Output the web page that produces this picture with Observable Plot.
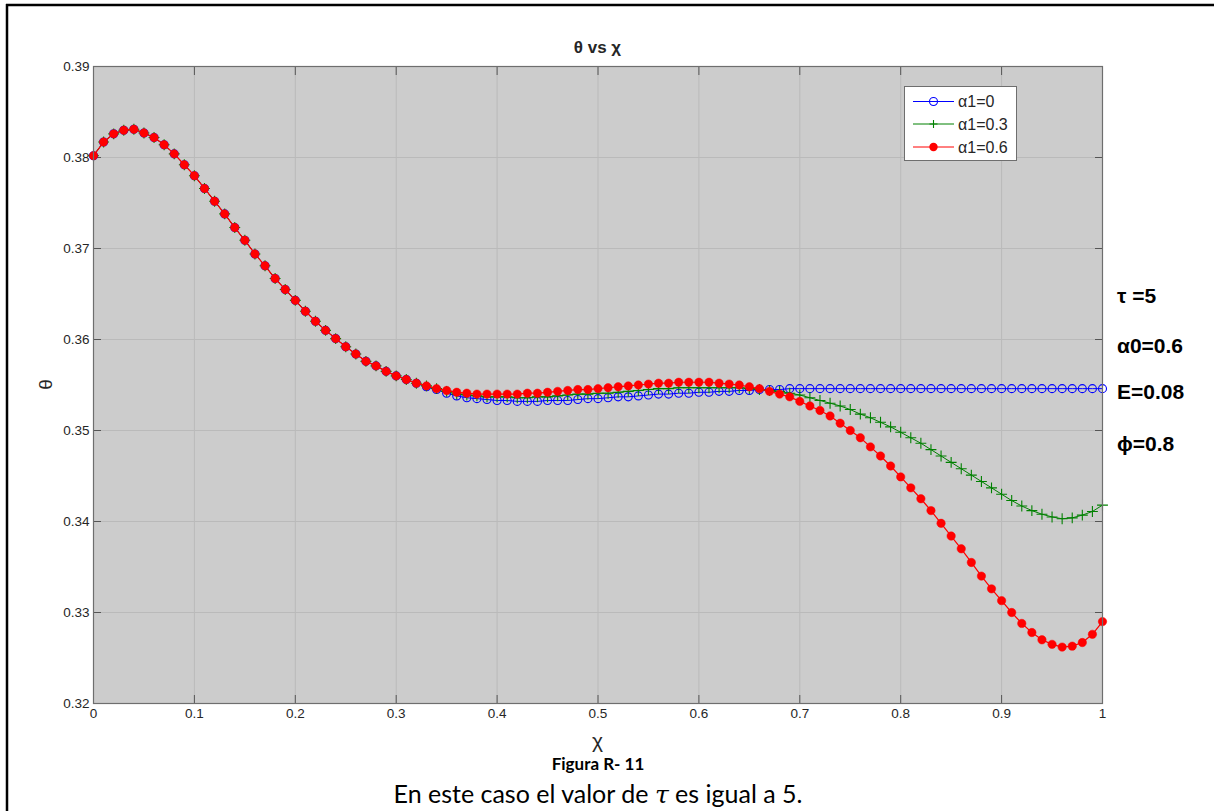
<!DOCTYPE html>
<html>
<head>
<meta charset="utf-8">
<script src="https://cdn.jsdelivr.net/npm/d3@7"></script>
<script src="https://cdn.jsdelivr.net/npm/@observablehq/plot@0.6"></script>
<style>
  html, body { margin: 0; padding: 0; background: #fff; overflow: hidden; }
  #chart { width: 1214px; height: 811px; overflow: hidden; }
</style>
</head>
<body>
<div id="chart"></div>
<script>
// ---- Data ----
const chi = d3.range(101).map(i => i / 100);

const seriesNames = ["α1=0", "α1=0.3", "α1=0.6"];
const seriesColors = ["#0000ff", "#008000", "#ff0000"];

const theta_a0 = [
  0.3802, 0.3817, 0.3826, 0.3830, 0.3831, 0.3827, 0.3822, 0.3814, 0.3804, 0.3792,
  0.3780, 0.3766, 0.3752, 0.3738, 0.3723, 0.3709, 0.3694, 0.3681, 0.3667, 0.3655,
  0.3643, 0.3631, 0.3620, 0.3610, 0.3601, 0.3592, 0.3584, 0.3576, 0.3571, 0.3565,
  0.3560, 0.3556, 0.3552, 0.3548, 0.3545, 0.3541, 0.3538, 0.3536, 0.3535, 0.3534,
  0.3533, 0.3533, 0.3532, 0.3532, 0.3532, 0.3533, 0.3533, 0.3533, 0.3534, 0.3535,
  0.3535, 0.3536, 0.3537, 0.3537, 0.3538, 0.3539, 0.3540, 0.3540, 0.3541, 0.3541,
  0.3542, 0.3542, 0.3543, 0.3543, 0.3544, 0.3544, 0.3545, 0.3545, 0.3545, 0.3546,
  0.3546, 0.3546, 0.3546, 0.3546, 0.3546, 0.3546, 0.3546, 0.3546, 0.3546, 0.3546,
  0.3546, 0.3546, 0.3546, 0.3546, 0.3546, 0.3546, 0.3546, 0.3546, 0.3546, 0.3546,
  0.3546, 0.3546, 0.3546, 0.3546, 0.3546, 0.3546, 0.3546, 0.3546, 0.3546, 0.3546,
  0.3546
];

const theta_a03 = [
  0.3802, 0.3817, 0.3826, 0.3830, 0.3831, 0.3827, 0.3822, 0.3814, 0.3804, 0.3792,
  0.3780, 0.3766, 0.3752, 0.3738, 0.3723, 0.3709, 0.3694, 0.3681, 0.3667, 0.3655,
  0.3643, 0.3631, 0.3620, 0.3610, 0.3601, 0.3592, 0.3584, 0.3576, 0.3571, 0.3565,
  0.3560, 0.3556, 0.3552, 0.3549, 0.3546, 0.3543, 0.3540, 0.3539, 0.3538, 0.3537,
  0.3537, 0.3537, 0.3536, 0.3536, 0.3537, 0.3537, 0.3538, 0.3539, 0.3540, 0.3540,
  0.3541, 0.3541, 0.3542, 0.3543, 0.3544, 0.3545, 0.3546, 0.3546, 0.3547, 0.3547,
  0.3547, 0.3547, 0.3547, 0.3547, 0.3547, 0.3546, 0.3545, 0.3544, 0.3543, 0.3541,
  0.3539, 0.3536, 0.3533, 0.3530, 0.3527, 0.3523, 0.3518, 0.3514, 0.3509, 0.3504,
  0.3498, 0.3492, 0.3486, 0.3479, 0.3472, 0.3465, 0.3458, 0.3451, 0.3444, 0.3437,
  0.3430, 0.3423, 0.3417, 0.3412, 0.3408, 0.3405, 0.3403, 0.3404, 0.3407, 0.3411,
  0.3418
];

const theta_a06 = [
  0.3802, 0.3817, 0.3826, 0.3830, 0.3831, 0.3827, 0.3822, 0.3814, 0.3804, 0.3792,
  0.3780, 0.3766, 0.3752, 0.3738, 0.3723, 0.3709, 0.3694, 0.3681, 0.3667, 0.3655,
  0.3643, 0.3631, 0.3620, 0.3610, 0.3601, 0.3592, 0.3584, 0.3576, 0.3571, 0.3565,
  0.3560, 0.3556, 0.3552, 0.3549, 0.3546, 0.3544, 0.3542, 0.3541, 0.3540, 0.3540,
  0.3540, 0.3540, 0.3540, 0.3541, 0.3541, 0.3542, 0.3543, 0.3544, 0.3545, 0.3545,
  0.3546, 0.3547, 0.3548, 0.3549, 0.3550, 0.3551, 0.3552, 0.3552, 0.3553, 0.3553,
  0.3553, 0.3553, 0.3552, 0.3551, 0.3550, 0.3548, 0.3546, 0.3543, 0.3540, 0.3537,
  0.3532, 0.3527, 0.3522, 0.3516, 0.3508, 0.3500, 0.3492, 0.3482, 0.3472, 0.3461,
  0.3449, 0.3437, 0.3425, 0.3412, 0.3398, 0.3384, 0.3370, 0.3355, 0.3340, 0.3326,
  0.3313, 0.3300, 0.3288, 0.3278, 0.3270, 0.3265, 0.3262, 0.3263, 0.3267, 0.3276,
  0.3290
];

const xTicks = [0, 0.1, 0.2, 0.3, 0.4, 0.5, 0.6, 0.7, 0.8, 0.9, 1];
const yTicks = [0.32, 0.33, 0.34, 0.35, 0.36, 0.37, 0.38, 0.39];
const yTickLabels = ["0.32", "0.33", "0.34", "0.35", "0.36", "0.37", "0.38", "0.39"];

const titleText = "θ vs χ";
const xLabel = "χ";
const yLabel = "θ";
const paramLabels = ["τ =5", "α0=0.6", "E=0.08", "ϕ=0.8"];
const figureLabel = "Figura R- 11";

// ---- Build tidy table ----
const allSeries = [theta_a0, theta_a03, theta_a06];
const rows = allSeries.map((vals, s) => vals.map((v, i) => ({x: chi[i], y: v, s: seriesNames[s]})));

const W = 1214, H = 811;
const mL = 93, mR = 112, mT = 66, mB = 108;
const axisFont = "'Liberation Sans', Arial, sans-serif";

const svg = Plot.plot({
  width: W,
  height: H,
  marginLeft: mL,
  marginRight: mR,
  marginTop: mT,
  marginBottom: mB,
  style: {background: "transparent", fontFamily: axisFont, fontSize: "13.5px", color: "#262626"},
  x: {domain: [0, 1], label: null},
  y: {domain: [0.32, 0.39], label: null},
  marks: [
    Plot.frame({fill: "#cccccc", stroke: null}),
    Plot.gridX({ticks: xTicks, stroke: "#bababa", strokeOpacity: 1, strokeWidth: 1}),
    Plot.gridY({ticks: yTicks, stroke: "#bababa", strokeOpacity: 1, strokeWidth: 1}),
    // inward tick marks (box style)
    Plot.axisX({anchor: "bottom", ticks: xTicks, tickSize: -8, tickFormat: () => "", stroke: "#555", label: null}),
    Plot.axisX({anchor: "top", ticks: xTicks, tickSize: -8, tickFormat: () => "", stroke: "#555", label: null}),
    Plot.axisY({anchor: "left", ticks: yTicks, tickSize: -8, tickFormat: () => "", stroke: "#555", label: null}),
    Plot.axisY({anchor: "right", ticks: yTicks, tickSize: -8, tickFormat: () => "", stroke: "#555", label: null}),
    // tick labels
    Plot.axisX({anchor: "bottom", ticks: xTicks, tickSize: 0, tickPadding: 5, tickFormat: d => String(d), label: null, fill: "#262626"}),
    Plot.axisY({anchor: "left", ticks: yTicks, tickSize: 0, tickPadding: 4, tickFormat: (d, i) => yTickLabels[i], label: null, fill: "#262626"}),
    // series
    Plot.line(rows[0], {x: "x", y: "y", stroke: seriesColors[0], strokeWidth: 1}),
    Plot.dot(rows[0], {x: "x", y: "y", stroke: seriesColors[0], fill: "none", r: 4, strokeWidth: 1.1}),
    Plot.line(rows[1], {x: "x", y: "y", stroke: seriesColors[1], strokeWidth: 1}),
    Plot.dot(rows[1], {x: "x", y: "y", stroke: seriesColors[1], symbol: "plus", r: 3.6, strokeWidth: 1.1}),
    Plot.line(rows[2], {x: "x", y: "y", stroke: seriesColors[2], strokeWidth: 1.2}),
    Plot.dot(rows[2], {x: "x", y: "y", fill: seriesColors[2], stroke: seriesColors[2], r: 4.2, strokeWidth: 0.5}),
    Plot.frame({stroke: "#6e6e6e", strokeWidth: 1.2})
  ]
});

document.getElementById("chart").appendChild(svg);

// ---- Extra text, legend and page frame ----
const s = d3.select(svg);
const x0 = mL, x1 = W - mR, y0 = mT, y1 = H - mB;
const cx = (x0 + x1) / 2;

function txt(parent, x, y, str, opts) {
  const t = parent.append("text").attr("x", x).attr("y", y).text(str)
    .style("text-anchor", opts.anchor || "start")
    .style("font-family", opts.family || axisFont)
    .style("font-size", opts.size + "px")
    .style("font-weight", opts.weight || "normal")
    .style("fill", opts.fill || "#262626");
  return t;
}

// outer document frame (left and top edges only)
s.append("line").attr("x1", 7).attr("x2", 7).attr("y1", 4).attr("y2", H).attr("stroke", "#000").attr("stroke-width", 2.5);
s.append("line").attr("x1", 6).attr("x2", W).attr("y1", 5).attr("y2", 5).attr("stroke", "#000").attr("stroke-width", 2.5);

// title
txt(s, cx, 53, titleText, {anchor: "middle", size: 17, weight: "bold"});

// y label
txt(s, 0, 0, yLabel, {anchor: "middle", size: 19}).attr("x", null).attr("y", null)
  .attr("transform", `translate(52,${(y0 + y1) / 2}) rotate(-90)`);

// x label
txt(s, cx, 748, xLabel, {anchor: "middle", size: 21});

// parameter annotations
const paramY = [303, 353, 399, 451];
paramLabels.forEach((t, i) => {
  txt(s, 1117, paramY[i], t, {size: 21, weight: "bold", fill: "#000"});
});

// legend
const lg = s.append("g");
lg.append("rect").attr("x", 904.5).attr("y", 86.5).attr("width", 112).attr("height", 74)
  .attr("fill", "#fff").attr("stroke", "#6e6e6e").attr("stroke-width", 1);
const legY = [101.5, 124, 147];
seriesNames.forEach((name, i) => {
  const y = legY[i];
  lg.append("line").attr("x1", 913).attr("x2", 954).attr("y1", y).attr("y2", y)
    .attr("stroke", seriesColors[i]).attr("stroke-width", 1);
  if (i === 0) {
    lg.append("circle").attr("cx", 933.5).attr("cy", y).attr("r", 4).attr("fill", "none").attr("stroke", seriesColors[0]).attr("stroke-width", 1.1);
  } else if (i === 1) {
    lg.append("path").attr("d", `M933.5,${y - 4}V${y + 4}M929.5,${y}H937.5`).attr("stroke", seriesColors[1]).attr("stroke-width", 1.1);
  } else {
    lg.append("circle").attr("cx", 933.5).attr("cy", y).attr("r", 4.2).attr("fill", seriesColors[2]);
  }
  txt(lg, 958, y + 5.5, name, {size: 16});
});

// figure label and caption
txt(s, 598, 770, figureLabel, {anchor: "middle", size: 17, weight: "bold", fill: "#000", family: "Lato, 'Open Sans', sans-serif"});

const cap = txt(s, 598, 803, "", {anchor: "middle", size: 25, fill: "#000", family: "Lato, 'Open Sans', sans-serif"});
cap.append("tspan").text("En este caso el valor de ");
cap.append("tspan").style("font-style", "italic").style("font-family", "'DejaVu Serif', serif").text("τ");
cap.append("tspan").text(" es igual a 5.");
</script>
</body>
</html>
